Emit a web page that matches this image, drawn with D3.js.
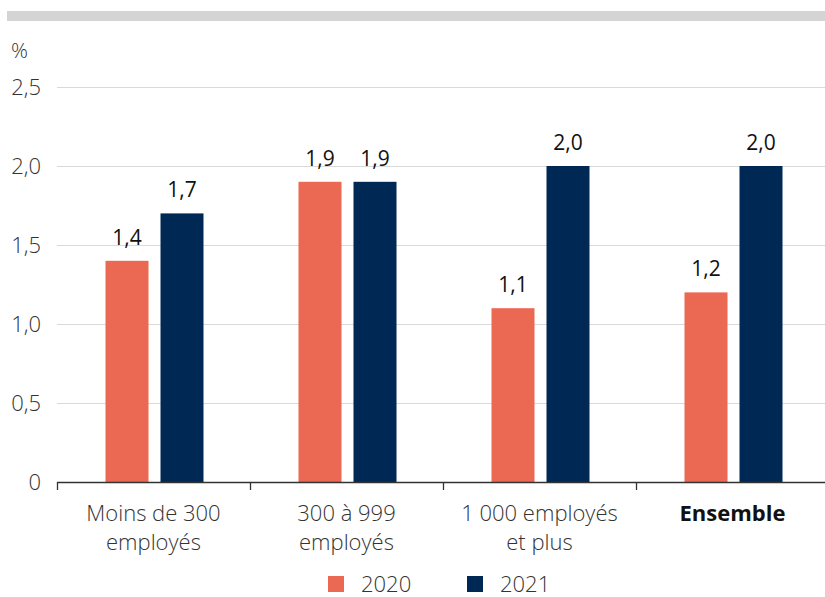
<!DOCTYPE html>
<html><head><meta charset="utf-8">
<script src="https://cdn.jsdelivr.net/npm/d3@7"></script>
<style>body{margin:0;background:#fff;} text{font-family:"Open Sans",sans-serif;font-weight:300;}</style>
</head><body>
<svg id="c" width="825" height="597"></svg>
<script>
const categories = [["Moins de 300","employés"],["300 à 999","employés"],["1 000 employés","et plus"],["Ensemble"]];
const categoryBold = [false,false,false,true];
const series = ["2020","2021"];
const values2020 = [1.4,1.9,1.1,1.2];
const values2021 = [1.7,1.9,2.0,2.0];
const yTicks = [0,0.5,1.0,1.5,2.0,2.5];
const colors = ["#EB6852","#002855"];

const svg = d3.select("#c");
svg.append("rect").attr("x",7).attr("y",11).attr("width",818).attr("height",10).attr("fill","#d4d4d4");

const x = d3.scaleBand().domain(d3.range(categories.length)).range([57,829]);
const y = d3.scaleLinear().domain([0,2.5]).range([482,87]);
const fmt = v => v===0 ? "0" : d3.format(".1f")(v).replace(".",",");

svg.append("g").selectAll("line").data(yTicks.filter(d=>d>0)).join("line")
  .attr("x1",57).attr("x2",825).attr("y1",d=>Math.round(y(d))+0.5).attr("y2",d=>Math.round(y(d))+0.5)
  .attr("stroke","#d9d9d9").attr("stroke-width",1);
svg.append("g").selectAll("text").data(yTicks).join("text")
  .attr("x",41).attr("y",d=>y(d)+8).attr("text-anchor","end")
  .attr("font-size",22).attr("fill","#333").text(fmt);
svg.append("text").attr("x",11).attr("y",58).attr("font-size",21).attr("fill","#333").text("%");

const data = categories.map((c,i)=>series.map((s,j)=>({i,s,j,v:[values2020,values2021][j][i]}))).flat();
const bw = 43;
const off = {"2020":-27.5,"2021":27.5};
svg.append("g").selectAll("rect").data(data).join("rect")
  .attr("x",d=>x(d.i)+x.bandwidth()/2+off[d.s]-bw/2+1)
  .attr("width",bw)
  .attr("y",d=>y(d.v)).attr("height",d=>y(0)-y(d.v))
  .attr("fill",d=>colors[d.j]);
svg.append("g").selectAll("text").data(data).join("text")
  .attr("x",d=>x(d.i)+x.bandwidth()/2+off[d.s]+1)
  .attr("y",d=>y(d.v)-16).attr("text-anchor","middle")
  .attr("font-size",21).attr("fill","#111").style("font-weight","400").text(d=>fmt(d.v));

svg.append("line").attr("x1",57).attr("x2",825).attr("y1",482.5).attr("y2",482.5).attr("stroke","#333").attr("stroke-width",1.3);
svg.append("g").selectAll("line").data(d3.range(categories.length)).join("line")
  .attr("x1",d=>Math.round(x(d))+0.5).attr("x2",d=>Math.round(x(d))+0.5).attr("y1",482).attr("y2",490)
  .attr("stroke","#333").attr("stroke-width",1.3);
const cl = svg.append("g").selectAll("text").data(categories).join("text")
  .attr("text-anchor","middle").attr("font-size",22)
  .attr("fill",(d,i)=>categoryBold[i]?"#111":"#333")
  .style("font-weight",(d,i)=>categoryBold[i]?"bold":"300");
cl.each(function(d,i){
  const t=d3.select(this);
  d.forEach((line,k)=>t.append("tspan").attr("x",x(i)+x.bandwidth()/2).attr("y",521+k*29).text(line));
});

const lx=[328,467];
series.forEach((s,j)=>{
  svg.append("rect").attr("x",lx[j]).attr("y",576).attr("width",16).attr("height",16).attr("fill",colors[j]);
  svg.append("text").attr("x",lx[j]+33).attr("y",592).attr("font-size",22).attr("fill","#333").text(s);
});
</script>
</body></html>
